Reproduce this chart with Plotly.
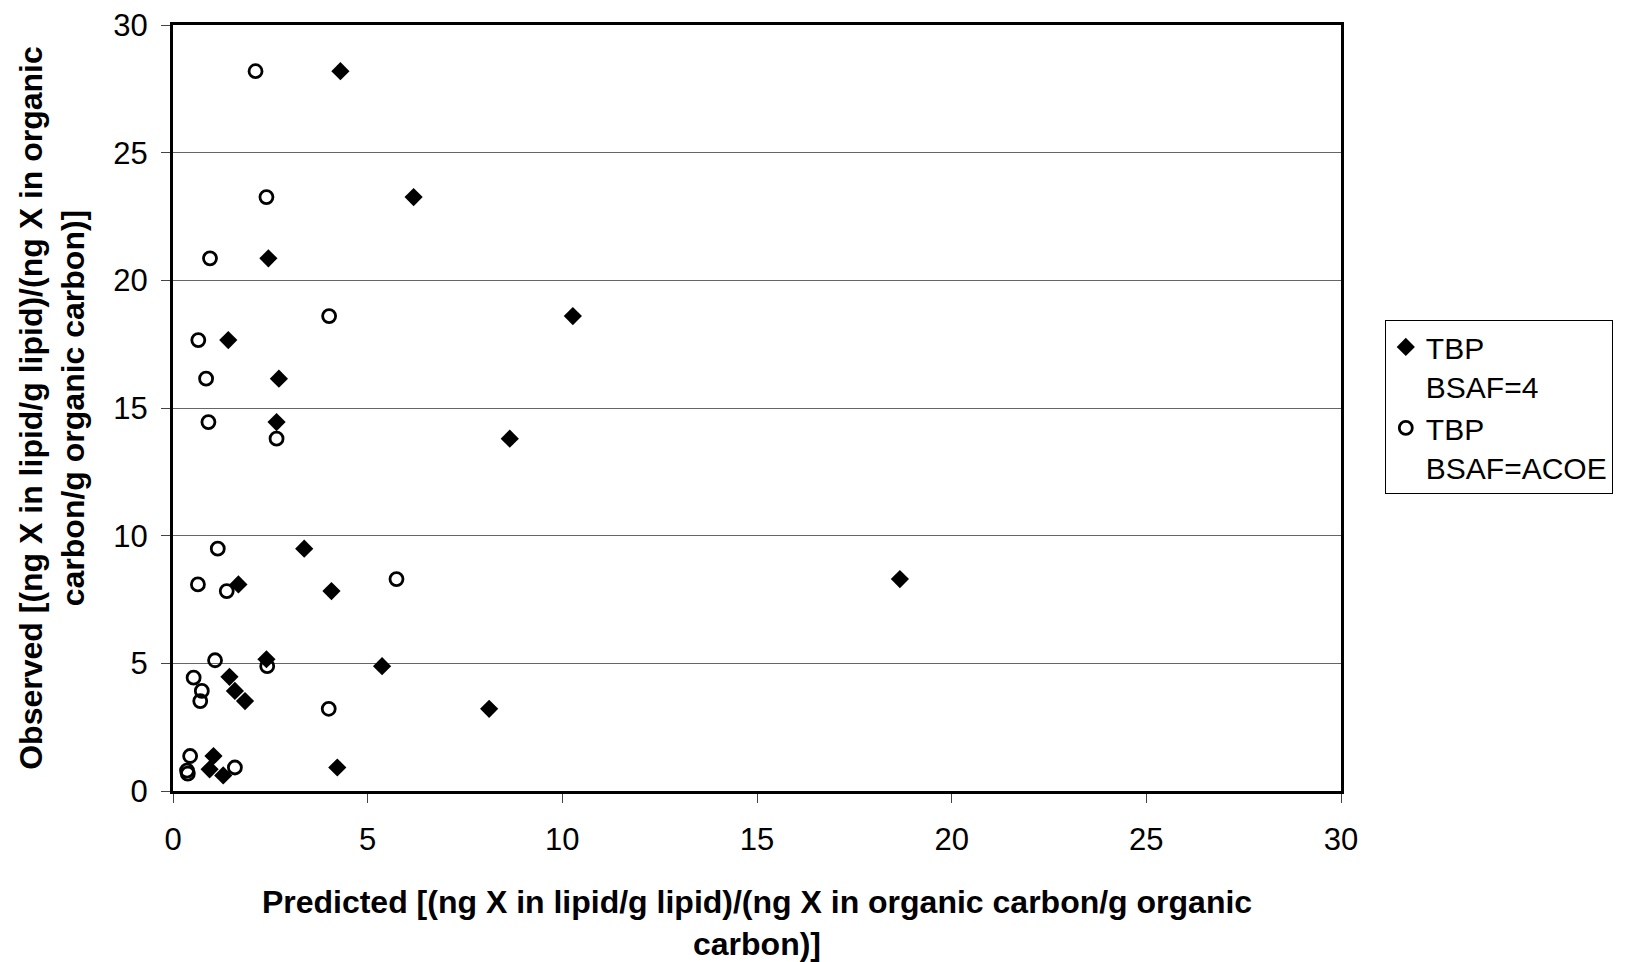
import plotly.graph_objects as go

# TBP, BSAF = 4 (filled diamonds)
pred_bsaf4 = [4.30, 6.18, 2.45, 10.27, 1.42, 2.72, 2.66, 8.65, 3.37, 18.67, 1.68,
              4.07, 2.40, 5.37, 1.45, 1.59, 1.85, 8.12, 1.04, 4.22, 0.94, 1.29]
obs_bsaf4 = [28.19, 23.26, 20.86, 18.60, 17.66, 16.15, 14.45, 13.80, 9.49, 8.30, 8.09,
             7.83, 5.16, 4.89, 4.47, 3.92, 3.52, 3.22, 1.37, 0.92, 0.85, 0.61]

# TBP, BSAF = ACOE (open circles)
pred_acoe = [2.12, 2.40, 0.95, 4.01, 0.65, 0.85, 0.91, 2.66, 1.15, 5.74, 0.64,
             1.38, 1.08, 2.42, 0.53, 0.74, 0.70, 4.00, 0.44, 1.59, 0.36, 0.38]
obs_acoe = [28.19, 23.26, 20.86, 18.60, 17.66, 16.15, 14.45, 13.80, 9.49, 8.30, 8.09,
            7.83, 5.12, 4.89, 4.44, 3.92, 3.52, 3.22, 1.37, 0.92, 0.80, 0.68]

tick_vals = [0, 5, 10, 15, 20, 25, 30]
x_title = "Predicted [(ng X in lipid/g lipid)/(ng X in organic carbon/g organic<br>carbon)]"
y_title = "Observed [(ng X in lipid/g lipid)/(ng X in organic<br>carbon/g organic carbon)]"

FONT = "Liberation Sans, Arial, sans-serif"

fig = go.Figure()
fig.add_trace(go.Scatter(
    x=pred_bsaf4, y=obs_bsaf4, mode="markers", name="TBP<br>BSAF=4",
    marker=dict(symbol="diamond", size=14, color="black", line=dict(width=0)),
))
fig.add_trace(go.Scatter(
    x=pred_acoe, y=obs_acoe, mode="markers", name="TBP<br>BSAF=ACOE",
    marker=dict(symbol="circle-open", size=13, color="black", line=dict(width=2.8, color="black")),
))

fig.update_layout(
    width=1625, height=962,
    margin=dict(l=173, r=280, t=25, b=171),
    paper_bgcolor="white", plot_bgcolor="white",
    font=dict(family=FONT, size=31, color="black"),
    showlegend=True,
    legend=dict(
        x=1.0375, y=0.615, xanchor="left", yanchor="top",
        bordercolor="black", borderwidth=1, bgcolor="white",
        font=dict(family=FONT, size=30, color="black"),
        tracegroupgap=8, itemwidth=30, valign="top",
    ),
    xaxis=dict(
        range=[0, 30], tickvals=tick_vals, ticktext=[str(v) for v in tick_vals],
        showgrid=False, zeroline=False, automargin=False,
        showline=True, linecolor="black", linewidth=3, mirror=True,
        ticks="outside", ticklen=9, tickwidth=1, tickcolor="#444444",
        ticklabelstandoff=10,
        tickfont=dict(family=FONT, size=31),
        title=dict(text=x_title, font=dict(family=FONT, size=32, weight="bold"), standoff=38),
    ),
    yaxis=dict(
        range=[0, 30], tickvals=tick_vals, ticktext=[str(v) for v in tick_vals],
        showgrid=True, gridcolor="#666666", gridwidth=1, zeroline=False, automargin=False,
        showline=True, linecolor="black", linewidth=3, mirror=True,
        ticks="outside", ticklen=9, tickwidth=1, tickcolor="#444444",
        ticklabelstandoff=7,
        tickfont=dict(family=FONT, size=31),
        title=dict(text=y_title, font=dict(family=FONT, size=32, weight="bold"), standoff=20),
    ),
)

fig.write_html("out.html", config={"displayModeBar": False},
               post_script="document.body.style.margin='0';")
